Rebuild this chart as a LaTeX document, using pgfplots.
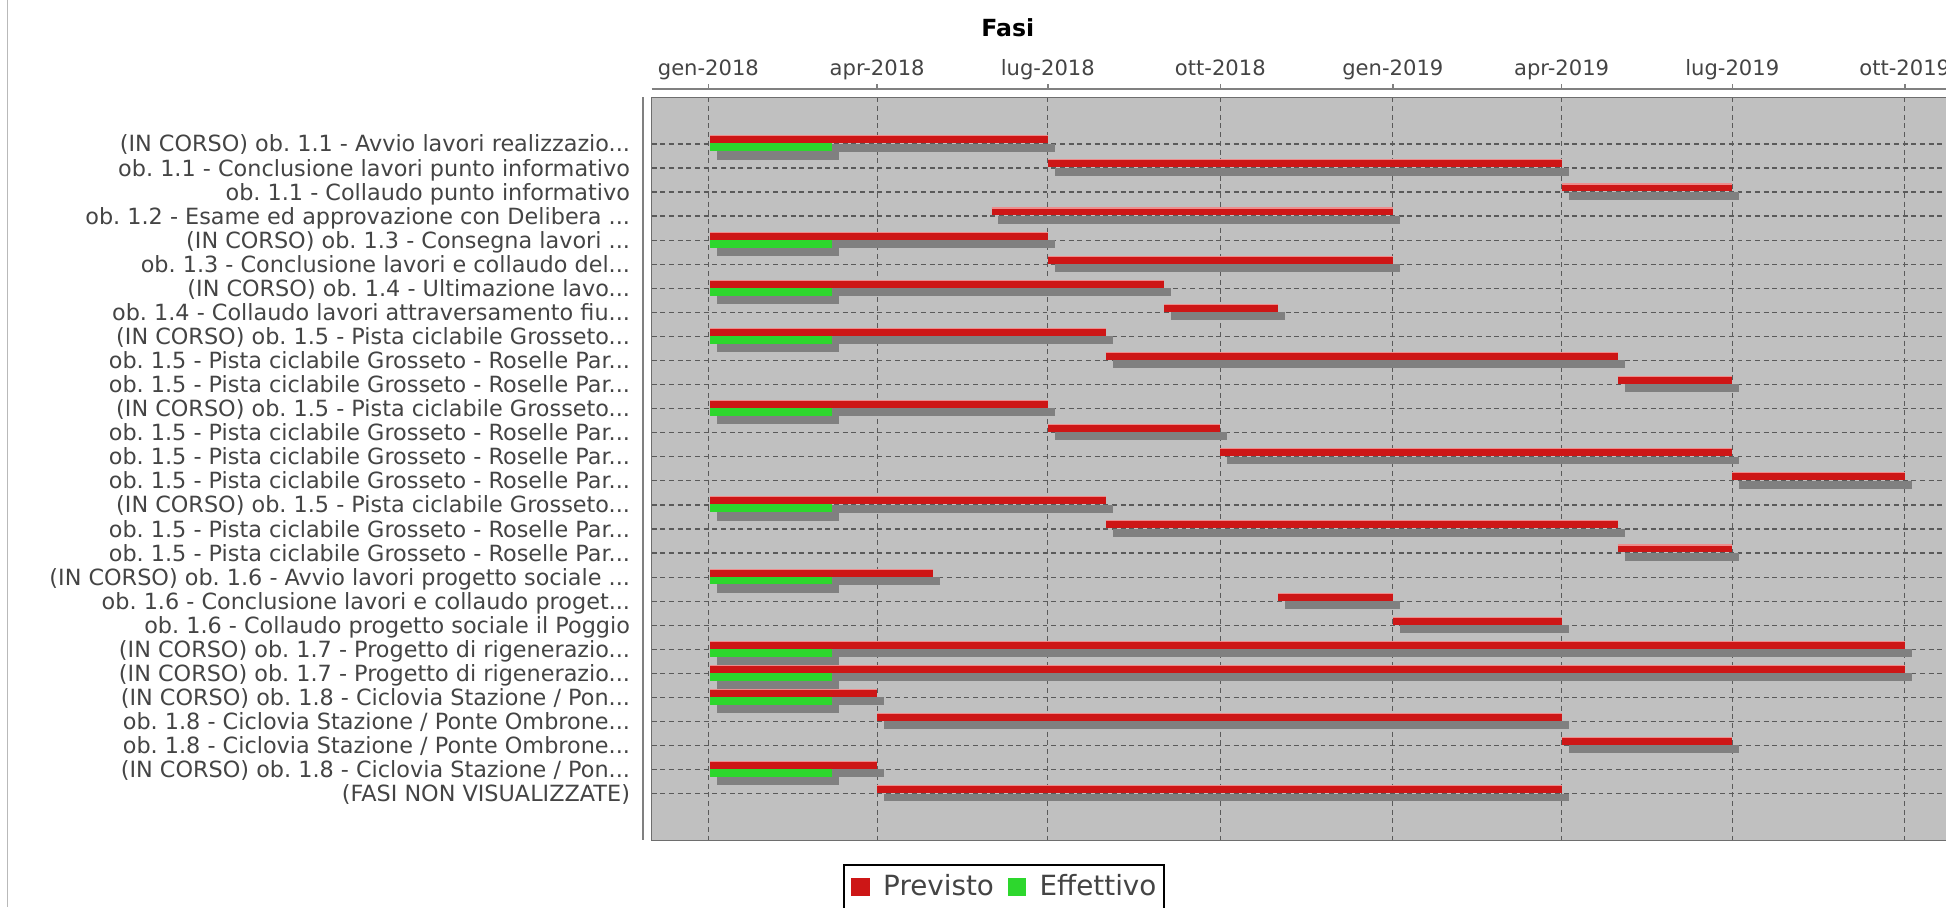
\documentclass[border=0pt]{standalone}
\usepackage{pgfplots}
\pgfplotsset{compat=1.18}
\usepackage{pgfplotstable}
\usepackage{fontspec}
\setmainfont{DejaVu Sans}
\definecolor{bggray}{RGB}{192,192,192}
\definecolor{redc}{RGB}{205,22,22}
\definecolor{redlight}{RGB}{238,140,140}
\definecolor{greenc}{RGB}{45,215,45}
\definecolor{shadowc}{RGB}{128,128,128}
\definecolor{gridc}{RGB}{90,90,90}
\definecolor{txtc}{RGB}{68,68,68}
\definecolor{axc}{RGB}{128,128,128}
\definecolor{outc}{RGB}{110,110,110}
\newcommand{\ddd}{.\kern0pt.\kern0pt.}

% days since 1 Jan 2018
\pgfplotstableread{
r s e
1 1 181
2 181 455
3 455 546
4 151 365
5 1 181
6 181 365
7 1 243
8 243 304
9 1 212
10 212 485
11 485 546
12 1 181
13 181 273
14 273 546
15 546 638
16 1 212
17 212 485
18 485 546
19 1 120
20 304 365
21 365 455
22 1 638
23 1 638
24 1 90
25 90 455
26 455 546
27 1 90
28 90 455
}\prev
\pgfplotstableread{
r s e
1 1 66
5 1 66
7 1 66
9 1 66
12 1 66
16 1 66
19 1 66
22 1 66
23 1 66
24 1 66
27 1 66
}\eff

\begin{document}
\frenchspacing
\begin{tikzpicture}
\draw[gray!55, line width=0.6pt] (3pt,0pt) -- (3pt,-365.5pt);
\node[font=\bfseries\fontsize{9.5}{11}\selectfont, anchor=base] at (406pt,-14.75pt) {Fasi};
\begin{axis}[
  name=ax,
  at={(262.5pt,-39.25pt)}, anchor=north west,
  scale only axis, width=547.5pt, height=299.25pt,
  xmin=-30.3, xmax=694.4, ymin=-0.93, ymax=29.93, y dir=reverse,
  clip=false,
  axis background/.style={fill=bggray},
  axis line style={draw=outc, line width=0.5pt},
  xtick={0,90,181,273,365,455,546,638},
  xticklabels={gen-2018,apr-2018,lug-2018,ott-2018,gen-2019,apr-2019,lug-2019,ott-2019},
  xticklabel pos=upper,
  ytick={1,2,3,4,5,6,7,8,9,10,11,12,13,14,15,16,17,18,19,20,21,22,23,24,25,26,27,28},
  yticklabels={
    {(IN CORSO) ob. 1.1 - Avvio lavori realizzazio\ddd},
    {ob. 1.1 - Conclusione lavori punto informativo},
    {ob. 1.1 - Collaudo punto informativo},
    {ob. 1.2 - Esame ed approvazione con Delibera \ddd},
    {(IN CORSO) ob. 1.3 - Consegna lavori \ddd},
    {ob. 1.3 - Conclusione lavori e collaudo del\ddd},
    {(IN CORSO) ob. 1.4 - Ultimazione lavo\ddd},
    {ob. 1.4 - Collaudo lavori attraversamento fiu\ddd},
    {(IN CORSO) ob. 1.5 - Pista ciclabile Grosseto\ddd},
    {ob. 1.5 - Pista ciclabile Grosseto - Roselle Par\ddd},
    {ob. 1.5 - Pista ciclabile Grosseto - Roselle Par\ddd},
    {(IN CORSO) ob. 1.5 - Pista ciclabile Grosseto\ddd},
    {ob. 1.5 - Pista ciclabile Grosseto - Roselle Par\ddd},
    {ob. 1.5 - Pista ciclabile Grosseto - Roselle Par\ddd},
    {ob. 1.5 - Pista ciclabile Grosseto - Roselle Par\ddd},
    {(IN CORSO) ob. 1.5 - Pista ciclabile Grosseto\ddd},
    {ob. 1.5 - Pista ciclabile Grosseto - Roselle Par\ddd},
    {ob. 1.5 - Pista ciclabile Grosseto - Roselle Par\ddd},
    {(IN CORSO) ob. 1.6 - Avvio lavori progetto sociale \ddd},
    {ob. 1.6 - Conclusione lavori e collaudo proget\ddd},
    {ob. 1.6 - Collaudo progetto sociale il Poggio},
    {(IN CORSO) ob. 1.7 - Progetto di rigenerazio\ddd},
    {(IN CORSO) ob. 1.7 - Progetto di rigenerazio\ddd},
    {(IN CORSO) ob. 1.8 - Ciclovia Stazione / Pon\ddd},
    {ob. 1.8 - Ciclovia Stazione / Ponte Ombrone\ddd},
    {ob. 1.8 - Ciclovia Stazione / Ponte Ombrone\ddd},
    {(IN CORSO) ob. 1.8 - Ciclovia Stazione / Pon\ddd},
    {(FASI NON VISUALIZZATE)\hspace{3.5pt}}
  },
  tick style={draw=none},
  grid=major,
  major grid style={draw=gridc, line width=0.5pt, dash pattern=on 2pt off 1.5pt},
  xticklabel style={font=\fontsize{8.5}{10}\selectfont, text=txtc, anchor=base, inner sep=0pt, yshift=8.75pt},
  yticklabel style={font=\fontsize{9}{10}\selectfont, text=txtc, anchor=base east, inner sep=0pt, xshift=-8.5pt, yshift=-3.25pt},
  legend columns=2,
  legend cell align=left,
  legend style={at={(0.1406,-0.0317)}, anchor=north west, draw=black, line width=0.9pt, fill=white,
    font=\fontsize{11.2}{13}\selectfont, text=txtc, inner xsep=3pt, inner ysep=4pt,
    nodes={inner sep=0pt},
    /tikz/every odd column/.append style={column sep=5.5pt},
    /tikz/every even column/.append style={column sep=5.5pt}},
]
% shadows
\addplot[draw=none, mark=none, forget plot,
  error bars/.cd, x dir=plus, x explicit, error mark=none,
  error bar style={draw=shadowc, line width=3.2pt, solid}]
  table[x expr=\thisrow{s}+3.7, y expr=\thisrow{r}-0.19+0.345, x error expr=\thisrow{e}-\thisrow{s}] {\prev};
\addplot[draw=none, mark=none, forget plot,
  error bars/.cd, x dir=plus, x explicit, error mark=none,
  error bar style={draw=shadowc, line width=3.2pt, solid}]
  table[x expr=\thisrow{s}+3.7, y expr=\thisrow{r}+0.14+0.345, x error expr=\thisrow{e}-\thisrow{s}] {\eff};
% Previsto
\addplot[draw=none, mark=none, forget plot,
  error bars/.cd, x dir=plus, x explicit, error mark=none,
  error bar style={draw=redc, line width=3.2pt, solid}]
  table[x=s, y expr=\thisrow{r}-0.19, x error expr=\thisrow{e}-\thisrow{s}] {\prev};
\addplot[draw=none, mark=none, forget plot,
  error bars/.cd, x dir=plus, x explicit, error mark=none,
  error bar style={draw=redlight, line width=0.45pt, solid}]
  table[x=s, y expr=\thisrow{r}-0.335, x error expr=\thisrow{e}-\thisrow{s}] {\prev};
% Effettivo
\addplot[draw=none, mark=none, forget plot,
  error bars/.cd, x dir=plus, x explicit, error mark=none,
  error bar style={draw=greenc, line width=3.2pt, solid}]
  table[x=s, y expr=\thisrow{r}+0.14, x error expr=\thisrow{e}-\thisrow{s}] {\eff};
% axis decorations (offset axes)
\pgfplotsinvokeforeach{0,90,181,273,365,455,546,638}{
  \draw[axc, line width=0.6pt] ([yshift=3.25pt]axis cs:#1,-0.93) -- ([yshift=5.25pt]axis cs:#1,-0.93);
}
\addlegendimage{legend image code/.code={\fill[redc] (0pt,-3.25pt) rectangle (6.5pt,3.25pt);}}
\addlegendentry{Previsto}
\addlegendimage{legend image code/.code={\fill[greenc] (0pt,-3.25pt) rectangle (6.5pt,3.25pt);}}
\addlegendentry{Effettivo}
\end{axis}
\draw[axc, line width=0.75pt] ([yshift=3.25pt]ax.north west) -- ([yshift=3.25pt, xshift=30pt]ax.north east);
\draw[axc, line width=0.75pt] ([xshift=-3.5pt]ax.north west) -- ([xshift=-3.5pt]ax.south west);
\pgfresetboundingbox
\path[use as bounding box] (0pt,0pt) rectangle (784pt,-365.5pt);
\end{tikzpicture}
\end{document}
